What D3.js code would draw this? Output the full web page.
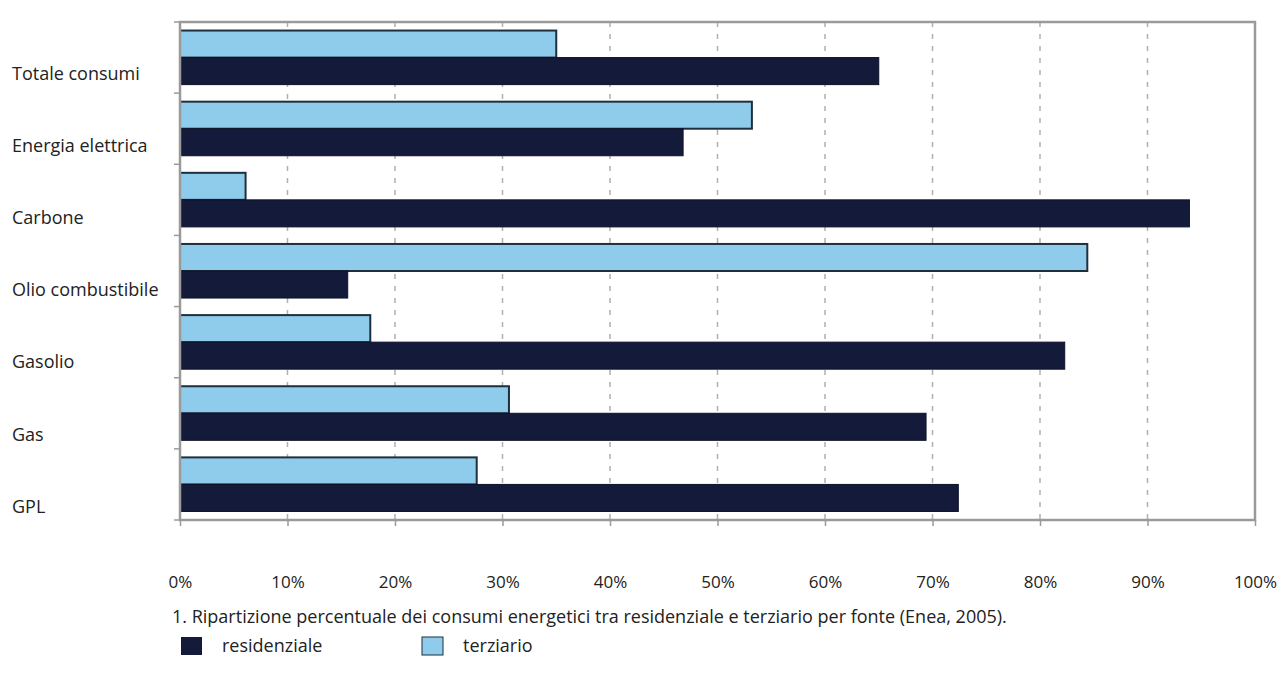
<!DOCTYPE html>
<html>
<head>
<meta charset="utf-8">
<script src="https://cdn.jsdelivr.net/npm/d3@7"></script>
<style>
  html, body { margin: 0; padding: 0; background: #fff; }
  svg { display: block; font-family: "Open Sans", "Noto Sans", sans-serif; }
</style>
</head>
<body>
<svg id="chart" width="1280" height="676"></svg>
<script>
// Energy sources, top to bottom
const categories = ["Totale consumi", "Energia elettrica", "Carbone", "Olio combustibile", "Gasolio", "Gas", "GPL"];
// Share of consumption (%) per source
const residenziale = [65, 46.8, 93.9, 15.6, 82.3, 69.4, 72.4];
const terziario    = [35, 53.2, 6.1, 84.4, 17.7, 30.6, 27.6];
const seriesNames = ["residenziale", "terziario"];
const xTicks = [0, 10, 20, 30, 40, 50, 60, 70, 80, 90, 100];
const caption = "1. Ripartizione percentuale dei consumi energetici tra residenziale e terziario per fonte (Enea, 2005).";

const colors = { residenziale: "#141a3a", terziario: "#8fcbea" };

const svg = d3.select("#chart");
const plot = { left: 180, right: 1255, top: 22, bottom: 520 };

const x = d3.scaleLinear().domain([0, 100]).range([plot.left, plot.right]);
const y = d3.scaleBand().domain(categories).range([plot.top, plot.bottom]).paddingInner(0.24).paddingOuter(0.12);
const ySub = d3.scaleBand().domain(["terziario", "residenziale"]).range([0, y.bandwidth()]);
const step = y.step();

// Category labels sit a little below each group's centre
const yLabel = d3.scalePoint().domain(categories)
  .range([y(categories[0]) + y.bandwidth() / 2 + 16, y(categories[categories.length - 1]) + y.bandwidth() / 2 + 22]);

// Dashed vertical gridlines
svg.append("g").selectAll("line").data(xTicks.slice(1, -1)).join("line")
  .attr("x1", d => x(d)).attr("x2", d => x(d))
  .attr("y1", plot.top).attr("y2", plot.bottom)
  .attr("stroke", "#b0b0b0").attr("stroke-width", 1.5)
  .attr("stroke-dasharray", "5,7");

// Bars
const rows = categories.map((c, i) => ({ cat: c, residenziale: residenziale[i], terziario: terziario[i] }));
const groups = svg.append("g").selectAll("g").data(rows).join("g")
  .attr("transform", d => `translate(0,${y(d.cat)})`);

groups.append("rect")
  .attr("x", x(0)).attr("y", ySub("terziario"))
  .attr("width", d => x(d.terziario) - x(0)).attr("height", ySub.bandwidth())
  .attr("fill", colors.terziario).attr("stroke", "#1e2f3d").attr("stroke-width", 2);

groups.append("rect")
  .attr("x", x(0)).attr("y", ySub("residenziale"))
  .attr("width", d => x(d.residenziale) - x(0)).attr("height", ySub.bandwidth())
  .attr("fill", colors.residenziale).attr("stroke", "#0e1228").attr("stroke-width", 1);

// Plot frame
svg.append("rect")
  .attr("x", plot.left).attr("y", plot.top)
  .attr("width", plot.right - plot.left).attr("height", plot.bottom - plot.top)
  .attr("fill", "none").attr("stroke", "#9a9a9a").attr("stroke-width", 2.5);

// Bottom axis
const xAxis = svg.append("g").attr("transform", `translate(0,${plot.bottom})`)
  .call(d3.axisBottom(x).tickValues(xTicks).tickFormat(d => d + "%").tickSize(6).tickPadding(50));
xAxis.select(".domain").remove();
xAxis.selectAll(".tick line").attr("stroke", "#9a9a9a").attr("stroke-width", 1.5);
xAxis.selectAll(".tick text").attr("font-size", 17).attr("fill", "#222").attr("font-family", "\"Open Sans\", sans-serif");

// Left tick marks at category boundaries
const bounds = d3.range(categories.length + 1).map(i => plot.top + i * step);
svg.append("g").selectAll("line").data(bounds).join("line")
  .attr("x1", plot.left - 6).attr("x2", plot.left)
  .attr("y1", d => d).attr("y2", d => d)
  .attr("stroke", "#9a9a9a").attr("stroke-width", 1.5);

// Category labels
svg.append("g").selectAll("text").data(categories).join("text")
  .attr("x", 12)
  .attr("y", d => yLabel(d))
  .attr("dy", "0.35em")
  .attr("font-size", 18).attr("fill", "#222")
  .text(d => d);

// Caption
svg.append("text")
  .attr("x", 172).attr("y", 623)
  .attr("font-size", 18).attr("fill", "#222")
  .text(caption);

// Legend
const legend = svg.append("g").selectAll("g").data(seriesNames).join("g")
  .attr("transform", (d, i) => `translate(${181 + i * 241},637)`);
legend.append("rect")
  .attr("width", 21).attr("height", 18)
  .attr("fill", d => colors[d])
  .attr("stroke", d => d === "terziario" ? "#1e2f3d" : "none").attr("stroke-width", 1);
legend.append("text")
  .attr("x", 41).attr("y", 15)
  .attr("font-size", 18).attr("fill", "#222")
  .text(d => d);
</script>
</body>
</html>
